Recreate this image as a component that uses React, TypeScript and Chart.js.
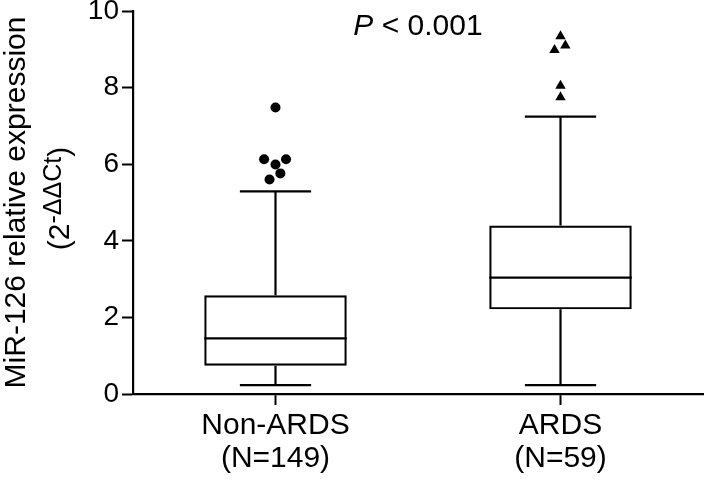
import React, { useEffect, useRef } from 'react';
import { Chart, registerables } from 'chart.js';

Chart.register(...registerables);

const FONT = '"Liberation Sans", Arial, Helvetica, sans-serif';

const categories = ['Non-ARDS', 'ARDS'];
const groupSizes = ['(N=149)', '(N=59)'];
const categoryX = [0.5, 1.5];
const whiskerLow = [0.23, 0.23];
const q1 = [0.74, 2.21];
const median = [1.45, 3.04];
const q3 = [2.58, 4.4];
const whiskerHigh = [5.29, 7.24];
const nonArdsOutlierX = [0.5, 0.46, 0.537, 0.5, 0.517, 0.479];
const nonArdsOutlierY = [7.48, 6.13, 6.13, 5.99, 5.76, 5.6];
const ardsOutlierX = [1.5, 1.479, 1.517, 1.5, 1.5];
const ardsOutlierY = [9.34, 8.98, 9.1, 8.05, 7.75];
const yTicks = [0, 2, 4, 6, 8, 10];
const yTitle = 'MiR-126 relative expression';
const yTitle2Base = '(2';
const yTitle2Sup = '-\u0394\u0394Ct';
const yTitle2End = ')';
const pItalic = 'P';
const pRest = ' < 0.001';

const boxPlugin = {
  id: 'boxParts',
  afterDatasetsDraw(chart: any) {
    const { ctx } = chart;
    const x = chart.scales.x;
    const y = chart.scales.y;
    ctx.save();
    ctx.strokeStyle = '#000';
    ctx.lineWidth = 2.2;
    categoryX.forEach((cx, i) => {
      const px = x.getPixelForValue(cx);
      const boxHalf = x.getPixelForValue(cx + 0.25) - px;
      const capHalf = x.getPixelForValue(cx + 0.125) - px;
      const yMed = y.getPixelForValue(median[i]);
      const yQ1 = y.getPixelForValue(q1[i]);
      const yQ3 = y.getPixelForValue(q3[i]);
      const yLo = y.getPixelForValue(whiskerLow[i]);
      const yHi = y.getPixelForValue(whiskerHigh[i]);
      ctx.beginPath();
      ctx.moveTo(px - boxHalf, yMed);
      ctx.lineTo(px + boxHalf, yMed);
      ctx.moveTo(px, yQ3);
      ctx.lineTo(px, yHi);
      ctx.moveTo(px - capHalf, yHi);
      ctx.lineTo(px + capHalf, yHi);
      ctx.moveTo(px, yQ1);
      ctx.lineTo(px, yLo);
      ctx.moveTo(px - capHalf, yLo);
      ctx.lineTo(px + capHalf, yLo);
      ctx.stroke();
    });
    ctx.restore();
  },
  afterDraw(chart: any) {
    const { ctx, chartArea } = chart;
    const cy = (chartArea.top + chartArea.bottom) / 2;
    ctx.save();
    ctx.fillStyle = '#000';
    ctx.save();
    ctx.translate(25, cy);
    ctx.rotate(-Math.PI / 2);
    ctx.font = `30px ${FONT}`;
    ctx.textAlign = 'center';
    ctx.textBaseline = 'alphabetic';
    ctx.fillText(yTitle, 0, 0);
    ctx.restore();
    ctx.save();
    ctx.translate(69, cy - 4);
    ctx.rotate(-Math.PI / 2);
    ctx.textAlign = 'left';
    ctx.textBaseline = 'alphabetic';
    ctx.font = `30px ${FONT}`;
    const w1 = ctx.measureText(yTitle2Base).width;
    const w3 = ctx.measureText(yTitle2End).width;
    ctx.font = `25px ${FONT}`;
    const w2 = ctx.measureText(yTitle2Sup).width;
    let sx = -(w1 + w2 + w3) / 2;
    ctx.font = `30px ${FONT}`;
    ctx.fillText(yTitle2Base, sx, 0);
    sx += w1;
    ctx.font = `25px ${FONT}`;
    ctx.fillText(yTitle2Sup, sx, -8);
    sx += w2;
    ctx.font = `30px ${FONT}`;
    ctx.fillText(yTitle2End, sx, 0);
    ctx.restore();
    const pcx = (chartArea.left + chartArea.right) / 2;
    ctx.textBaseline = 'alphabetic';
    ctx.textAlign = 'left';
    ctx.font = `italic 30px ${FONT}`;
    const pw1 = ctx.measureText(pItalic).width;
    ctx.font = `30px ${FONT}`;
    const pw2 = ctx.measureText(pRest).width;
    const px0 = pcx - (pw1 + pw2) / 2;
    const py = chartArea.top + 24;
    ctx.font = `italic 30px ${FONT}`;
    ctx.fillText(pItalic, px0, py);
    ctx.font = `30px ${FONT}`;
    ctx.fillText(pRest, px0 + pw1, py);
    ctx.restore();
  },
};

export default function App() {
  const ref = useRef<HTMLCanvasElement | null>(null);
  useEffect(() => {
    if (!ref.current) return;
    const chart = new Chart(ref.current, {
      type: 'bar',
      data: {
        datasets: [
          {
            type: 'bar',
            data: categoryX.map((cx, i) => ({ x: cx, y: [q1[i], q3[i]] })) as any,
            backgroundColor: 'rgba(255,255,255,0)',
            borderColor: '#000',
            borderWidth: 2.2,
            borderSkipped: false,
            barPercentage: 0.5,
            categoryPercentage: 1,
          } as any,
          {
            type: 'scatter',
            data: nonArdsOutlierX.map((v, i) => ({ x: v, y: nonArdsOutlierY[i] })),
            pointStyle: 'circle',
            pointRadius: 5,
            backgroundColor: '#000',
            borderColor: '#000',
            borderWidth: 0,
          } as any,
          {
            type: 'scatter',
            data: ardsOutlierX.map((v, i) => ({ x: v, y: ardsOutlierY[i] })),
            pointStyle: 'triangle',
            pointRadius: 6,
            backgroundColor: '#000',
            borderColor: '#000',
            borderWidth: 0,
          } as any,
        ],
      },
      options: {
        animation: false,
        responsive: false,
        devicePixelRatio: 1,
        layout: { padding: { top: 11, right: 1, left: 0, bottom: 0 } },
        plugins: {
          legend: { display: false },
          tooltip: { enabled: false },
          title: { display: false },
        },
        scales: {
          x: {
            type: 'linear',
            min: 0,
            max: 2,
            offset: false,
            afterBuildTicks: (axis: any) => {
              axis.ticks = categoryX.map((v) => ({ value: v }));
            },
            afterFit: (axis: any) => {
              axis.height = 87;
              axis.paddingLeft = 0;
              axis.paddingRight = 0;
            },
            ticks: {
              callback: (_v: any, i: number) => [categories[i], groupSizes[i]],
              font: { family: FONT, size: 30, lineHeight: 1.1 },
              color: '#000',
              padding: 4,
              maxRotation: 0,
              autoSkip: false,
            },
            grid: {
              display: true,
              offset: false,
              drawOnChartArea: false,
              drawTicks: true,
              tickLength: 11,
              tickWidth: 2,
              tickColor: '#000',
            },
            border: { display: true, color: '#000', width: 2.2 },
          },
          y: {
            type: 'linear',
            min: 0,
            max: 10,
            afterBuildTicks: (axis: any) => {
              axis.ticks = yTicks.map((v) => ({ value: v }));
            },
            afterFit: (axis: any) => {
              axis.width = 133;
              axis.paddingTop = 0;
              axis.paddingBottom = 0;
            },
            ticks: {
              font: { family: FONT, size: 28 },
              color: '#000',
              padding: 3,
            },
            grid: {
              display: true,
              drawOnChartArea: false,
              drawTicks: true,
              tickLength: 11,
              tickWidth: 2,
              tickColor: '#000',
            },
            border: { display: true, color: '#000', width: 2.2 },
          },
        },
      } as any,
      plugins: [boxPlugin],
    });
    return () => chart.destroy();
  }, []);
  return (
    <div style={{ position: 'absolute', left: 0, top: 0, width: 709, height: 481, background: '#fff' }}>
      <canvas ref={ref} width={709} height={481} style={{ display: 'block' }} />
    </div>
  );
}
